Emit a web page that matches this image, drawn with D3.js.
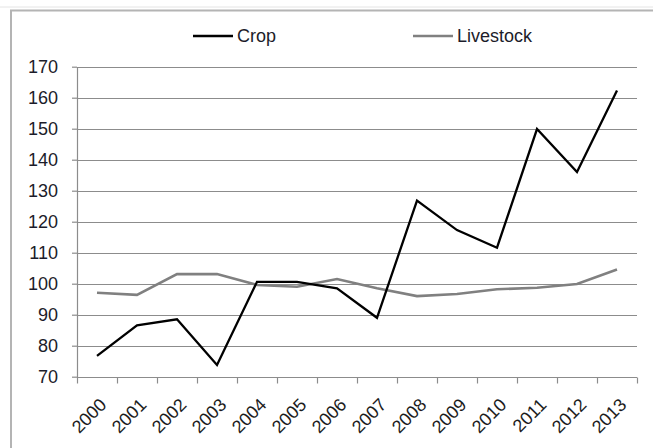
<!DOCTYPE html>
<html>
<head>
<meta charset="utf-8">
<script src="https://cdn.jsdelivr.net/npm/d3@7"></script>
<style>
  html, body { margin: 0; padding: 0; background: #fff; }
  svg { display: block; font-family: "Liberation Sans", Arial, sans-serif; }
</style>
</head>
<body>
<svg id="chart" width="653" height="448"></svg>
<script>
// Index values by year
const years = ["2000","2001","2002","2003","2004","2005","2006","2007","2008","2009","2010","2011","2012","2013"];
const crop = [76.7, 86.6, 88.5, 73.8, 100.6, 100.6, 98.5, 89.0, 126.8, 117.3, 111.6, 149.9, 136.0, 162.3];
const livestock = [97.1, 96.4, 103.1, 103.1, 99.6, 99.0, 101.5, 98.5, 96.0, 96.7, 98.2, 98.7, 99.9, 104.6];
const yTicks = [70, 80, 90, 100, 110, 120, 130, 140, 150, 160, 170];
const seriesNames = ["Crop", "Livestock"];

const svg = d3.select("#chart");
const W = 653, H = 448;
const plot = { left: 77, right: 637, top: 66.7, bottom: 376.7 };
const FONT = "18px";

// worksheet-style frame around the chart
svg.append("line").attr("x1", 0).attr("x2", W).attr("y1", 7).attr("y2", 7)
  .attr("stroke", "#e4e4e4").attr("stroke-width", 1);
svg.append("line").attr("x1", 10).attr("x2", W).attr("y1", 10.5).attr("y2", 10.5)
  .attr("stroke", "#b4b4b4").attr("stroke-width", 2);
svg.append("line").attr("x1", 11).attr("x2", 11).attr("y1", 10).attr("y2", H)
  .attr("stroke", "#b4b4b4").attr("stroke-width", 2);

const x = d3.scaleBand().domain(years).range([plot.left, plot.right]).padding(0);
const y = d3.scaleLinear().domain([70, 170]).range([plot.bottom, plot.top]);
const cx = d => x(d) + x.bandwidth() / 2;

// horizontal gridlines
svg.append("g")
  .selectAll("line")
  .data(yTicks.slice(1))
  .join("line")
  .attr("x1", plot.left).attr("x2", plot.right)
  .attr("y1", d => Math.round(y(d)) + 0.5).attr("y2", d => Math.round(y(d)) + 0.5)
  .attr("stroke", "#8c8c8c").attr("stroke-width", 1.2);

// y axis
const yAxis = svg.append("g")
  .attr("transform", `translate(${plot.left},0)`)
  .call(d3.axisLeft(y).tickValues(yTicks).tickSize(5).tickPadding(14).tickSizeOuter(0));
yAxis.attr("font-size", FONT).attr("font-family", "Liberation Sans, Arial, sans-serif");
yAxis.select(".domain").attr("stroke", "#8c8c8c").attr("stroke-width", 1.2);
yAxis.selectAll(".tick line").attr("stroke", "#8c8c8c").attr("stroke-width", 1.2);
yAxis.selectAll(".tick text").attr("fill", "#1c1c2a");

// x axis with boundary ticks between years
const xAxisG = svg.append("g").attr("transform", `translate(0,${Math.round(plot.bottom) + 0.5})`);
xAxisG.append("line")
  .attr("x1", plot.left).attr("x2", plot.right)
  .attr("stroke", "#8c8c8c").attr("stroke-width", 1.2);
const bounds = years.map(d => x(d)).concat([plot.right]);
xAxisG.selectAll("line.tk")
  .data(bounds)
  .join("line").attr("class", "tk")
  .attr("x1", d => Math.round(d) + 0.5).attr("x2", d => Math.round(d) + 0.5)
  .attr("y1", 0).attr("y2", 6)
  .attr("stroke", "#8c8c8c").attr("stroke-width", 1.2);
xAxisG.selectAll("text")
  .data(years)
  .join("text")
  .attr("transform", d => `translate(${cx(d) + 6},${24}) rotate(-45)`)
  .attr("text-anchor", "end")
  .attr("dy", "0.35em")
  .attr("fill", "#1c1c1c")
  .attr("font-size", FONT)
  .text(d => d);

// series lines
const line = d3.line().x(d => cx(d.year)).y(d => y(d.value));
const series = [
  { name: seriesNames[0], values: crop, color: "#000000", width: 2.3 },
  { name: seriesNames[1], values: livestock, color: "#808080", width: 2.6 }
];
// draw livestock first so crop sits on top
[series[1], series[0]].forEach(s => {
  svg.append("path")
    .datum(years.map((yr, i) => ({ year: yr, value: s.values[i] })))
    .attr("d", line)
    .attr("fill", "none")
    .attr("stroke", s.color)
    .attr("stroke-width", s.width)
    .attr("stroke-linejoin", "miter");
});

// legend
const legendPos = [193, 413];
const legend = svg.append("g");
series.forEach((s, i) => {
  const g = legend.append("g").attr("transform", `translate(${legendPos[i]},36)`);
  g.append("line").attr("x1", 0).attr("x2", 40).attr("y1", 0).attr("y2", 0)
    .attr("stroke", s.color).attr("stroke-width", s.width);
  g.append("text").attr("x", 44).attr("y", 0).attr("dy", "0.36em")
    .attr("fill", "#1c1c2a").attr("font-size", FONT).text(s.name);
});
</script>
</body>
</html>
